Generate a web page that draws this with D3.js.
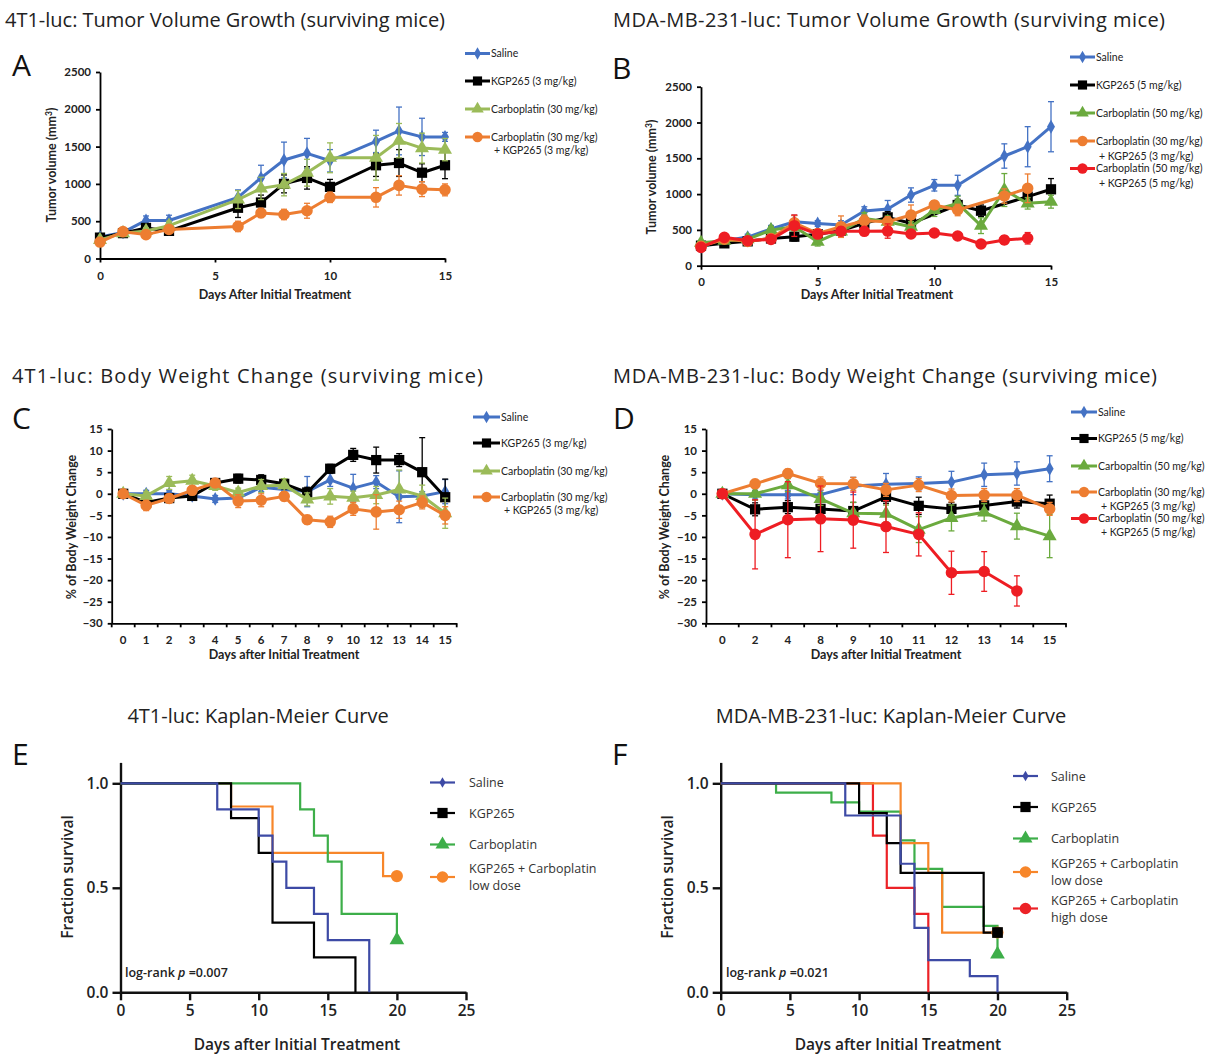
<!DOCTYPE html>
<html>
<head>
<meta charset="utf-8">
<script src="https://cdn.jsdelivr.net/npm/d3@7"></script>
<style>
  body { margin: 0; background: #fff; }
</style>
</head>
<body>
<div id="figure"></div>
<script>
// ---------- data: A, 4T1 tumor volume (mm3) ----------
const aDays = [0, 1, 2, 3, 6, 7, 8, 9, 10, 12, 13, 14, 15];
const aSaline = [290, 350, 510, 510, 820, 1080, 1320, 1410, 1310, 1570, 1710, 1630, 1630];
const aSalineErr = [40, 30, 60, 70, 100, 170, 240, 200, 150, 150, 320, 250, 60];
const aKgp = [280, 340, 410, 370, 680, 750, 1000, 1080, 960, 1250, 1280, 1150, 1250];
const aKgpErr = [30, 40, 50, 50, 130, 100, 120, 150, 100, 150, 180, 120, 180];
const aCarbo = [250, 340, 370, 440, 790, 940, 990, 1150, 1350, 1350, 1580, 1480, 1460];
const aCarboErr = [30, 40, 40, 60, 120, 150, 150, 180, 200, 300, 230, 200, 150];
const aCombo = [220, 360, 320, 390, 430, 610, 590, 640, 820, 820, 980, 930, 920];
const aComboErr = [40, 40, 40, 50, 70, 60, 70, 100, 70, 130, 130, 100, 80];
const aLabels = ['Saline', 'KGP265 (3 mg/kg)', 'Carboplatin (30 mg/kg)', ['Carboplatin (30 mg/kg)', '+ KGP265 (3 mg/kg)']];

// ---------- data: B, MDA-MB-231 tumor volume (mm3) ----------
const bDays = [0, 1, 2, 3, 4, 5, 6, 7, 8, 9, 10, 11, 12, 13, 14, 15];
const bSaline = [265, 350, 400, 512, 614, 590, 568, 763, 791, 987, 1123, 1123, null, 1532, 1662, 1941];
const bSalineErr = [30, 30, 40, 50, 90, 40, 60, 60, 120, 100, 80, 140, null, 170, 280, 350];
const bKgp = [280, 312, 340, 380, 405, 440, 490, 591, 675, 592, null, 848, 768, null, 964, 1067];
const bKgpErr = [30, 30, 30, 40, 60, 50, 50, 60, 80, 60, null, 80, 80, null, 100, 150];
const bCarbo = [320, 350, 370, 498, 545, 335, 480, 661, 614, 545, 778, 871, 559, 1057, 871, 894];
const bCarboErr = [30, 30, 30, 50, 60, 60, 60, 80, 80, 70, 90, 100, 110, 230, 80, 90];
const bComboLow = [270, 370, 340, 380, 600, 450, 545, 628, 614, 708, 848, 778, null, 973, 1081, null];
const bComboLowErr = [30, 30, 30, 40, 100, 60, 150, 80, 70, 140, 60, 80, null, 100, 200, null];
const bComboHigh = [256, 396, 349, 368, 559, 442, 480, 480, 484, 443, 457, 415, 303, 359, 383, null];
const bComboHighErr = [30, 40, 40, 40, 150, 50, 60, 50, 100, 40, 40, 40, 30, 60, 80, null];
const bLabels = ['Saline', 'KGP265 (5 mg/kg)', 'Carboplatin (50 mg/kg)',
  ['Carboplatin (30 mg/kg)', '+ KGP265 (3 mg/kg)'], ['Carboplatin (50 mg/kg)', '+ KGP265 (5 mg/kg)']];

// ---------- data: C, 4T1 body weight change (%) ----------
const cDays = ['0', '1', '2', '3', '4', '5', '6', '7', '8', '9', '10', '12', '13', '14', '15'];
const cSaline = [0, 0, 0, -0.5, -1.2, -1, 1.5, 1, 0.5, 3.2, 1.3, 2.7, -0.7, -0.5, 0.5];
const cSalineErr = [0.5, 0.8, 0.8, 0.8, 0.8, 0.8, 1, 1, 3.5, 1.5, 3.2, 1.5, 6, 1, 2.8];
const cKgp = [0, -2, -1, -0.5, 2.5, 3.5, 3.2, 2.3, 0.3, 5.8, 9, 7.8, 7.8, 5, -0.8];
const cKgpErr = [0.5, 1, 1, 0.8, 0.8, 1, 1.2, 1.2, 1.2, 1, 1.5, 3, 1.5, 8, 4.2];
const cCarbo = [0, -0.5, 2.5, 3, 1.8, 0.3, 1.8, 2, -1.3, -0.6, -0.9, -0.3, 1, -0.5, -4.5];
const cCarboErr = [0.5, 1, 1.5, 1.3, 1, 1, 1.5, 1.5, 1.5, 1.8, 1.5, 2, 4.5, 2.5, 3.5];
const cCombo = [0, -2.7, -1.1, 0.8, 2.5, -1.7, -1.5, -0.6, -6, -6.5, -3.5, -4.2, -3.7, -2, -5];
const cComboErr = [0.5, 1.2, 1, 1, 1, 1.5, 1.5, 1, 1, 1.3, 1.5, 4, 2, 1.5, 2];
const cLabels = aLabels;

// ---------- data: D, MDA-MB-231 body weight change (%) ----------
const dDays = ['0', '2', '4', '8', '9', '10', '11', '12', '13', '14', '15'];
const dSaline = [0, -0.2, -0.2, -0.2, 1.8, 2.2, 2.4, 2.7, 4.4, 4.7, 5.8];
const dSalineErr = [0.3, 1, 1, 1, 2, 2.5, 1.5, 2.5, 2.7, 2.7, 3];
const dKgp = [0, -3.6, -3.1, -3.5, -4, -0.7, -2.8, -3.5, -2.7, -1.8, -2.3];
const dKgpErr = [0.3, 1.5, 1.5, 1.5, 2, 1.5, 2, 1.5, 1.5, 1.5, 2];
const dCarbo = [0, 0, 2, -1.2, -4.5, -4.6, -8.3, -5.6, -4.3, -7.5, -9.8];
const dCarboErr = [0.3, 1.5, 1.5, 1.5, 2.5, 2, 3, 3, 2, 3, 5];
const dComboLow = [0, 2.3, 4.7, 2.4, 2.3, 0.9, 2, -0.4, -0.3, -0.3, -3.5];
const dComboLowErr = [0.3, 1, 1, 1.5, 1.5, 1.5, 1.5, 1.5, 1.5, 1.5, 1.5];
const dComboHigh = [0, -9.4, -6, -5.8, -6.1, -7.6, -9.4, -18.3, -18, -22.5, null];
const dComboHighErr = [0.3, 8, 8.8, 7.6, 6.5, 6, 5, 5, 4.6, 3.5, null];
const dLabels = ['Saline', 'KGP265 (5 mg/kg)', 'Carbopaltin (50 mg/kg)',
  ['Carboplatin (30 mg/kg)', '+ KGP265 (3 mg/kg)'], ['Carboplatin (50 mg/kg)', '+ KGP265 (5 mg/kg)']];

// ---------- data: E, 4T1 Kaplan-Meier (event days / survival fraction) ----------
const eSalineT = [0, 7, 10, 11, 12, 14, 15, 18];
const eSalineS = [1, 0.875, 0.75, 0.625, 0.5, 0.375, 0.25, 0];
const eKgpT = [0, 8, 10, 11, 14, 17];
const eKgpS = [1, 0.833, 0.667, 0.333, 0.167, 0];
const eCarboT = [0, 13, 14, 15, 16, 20];
const eCarboS = [1, 0.875, 0.75, 0.625, 0.375, 0.25];
const eComboT = [0, 8, 11, 19];
const eComboS = [1, 0.889, 0.667, 0.556];
const eLabels = ['Saline', 'KGP265', 'Carboplatin', ['KGP265 + Carboplatin', 'low dose']];

// ---------- data: F, MDA-MB-231 Kaplan-Meier ----------
const fSalineT = [0, 9, 13, 14, 15, 18, 20];
const fSalineS = [1, 0.846, 0.615, 0.308, 0.154, 0.077, 0];
const fKgpT = [0, 10, 12, 13, 19];
const fKgpS = [1, 0.857, 0.714, 0.571, 0.286];
const fCarboT = [0, 4, 8, 10, 13, 14, 16, 19, 20];
const fCarboS = [1, 0.955, 0.909, 0.864, 0.727, 0.591, 0.409, 0.318, 0.182];
const fLowT = [0, 13, 15, 16];
const fLowS = [1, 0.714, 0.571, 0.286];
const fHighT = [0, 11, 12, 14, 15];
const fHighS = [1, 0.75, 0.5, 0.375, 0];
const fLabels = ['Saline', 'KGP265', 'Carboplatin', ['KGP265 + Carboplatin', 'low dose'], ['KGP265 + Carboplatin', 'high dose']];

// ---------- setup ----------
const width = 1215;
const height = 1054;
const svg = d3.select('#figure').append('svg')
    .attr('width', width)
    .attr('height', height);

const XL = "Lato, 'Open Sans', sans-serif";   // excel-style panels
const PR = "'Open Sans', Lato, sans-serif";   // prism-style panels

const blue = '#4472C4', black = '#000000', orange = '#ED7D31', red = '#EE1D23';
const lightGreen = '#9BBB59', green = '#6BAA3E';

const symbols = { diamond: d3.symbolDiamond, square: d3.symbolSquare, triangle: d3.symbolTriangle, circle: d3.symbolCircle };
const symSize = { diamond: 55, square: 105, triangle: 85, circle: 105 };
function marker(shape, scale = 1) {
    return d3.symbol().type(symbols[shape]).size(symSize[shape] * scale)();
}

function label(g, x, y, str, size, opts = {}) {
    const t = g.append('text')
        .attr('x', x).attr('y', y)
        .attr('font-family', opts.font || XL)
        .attr('font-size', size)
        .attr('font-weight', opts.weight || 'normal')
        .attr('fill', opts.fill || '#222')
        .attr('text-anchor', opts.anchor || 'start')
        .text(str);
    if (opts.len) t.attr('textLength', opts.len).attr('lengthAdjust', 'spacing');
    if (opts.rotate) t.attr('transform', `rotate(-90,${x},${y})`);
    return t;
}

// Draws one Excel style line chart with error bars and a legend
function linePanel(cfg) {
    const g = svg.append('g');
    const { x, y, xs, series } = cfg;
    const [x0, x1] = x.range();
    const yb = y.range()[0];

    // x axis
    let xAxis;
    if (cfg.band) {
        xAxis = g.append('g').attr('transform', `translate(0,${yb})`)
            .call(d3.axisBottom(x).tickSize(0).tickPadding(cfg.xPad));
        const edges = x.domain().map(d => x(d)).concat([x1]);
        xAxis.selectAll('.edge').data(edges).join('line')
            .attr('class', 'edge')
            .attr('x1', d => d).attr('x2', d => d)
            .attr('y1', 0).attr('y2', 4);
    } else {
        xAxis = g.append('g').attr('transform', `translate(0,${yb})`)
            .call(d3.axisBottom(x).tickValues(cfg.xTicks).tickSize(4).tickSizeOuter(0).tickPadding(cfg.xPad));
    }
    const yAxis = g.append('g').attr('transform', `translate(${x0},0)`)
        .call(d3.axisLeft(y).tickValues(cfg.yTicks).tickFormat(d3.format('d'))
            .tickSize(4).tickSizeOuter(0).tickPadding(5));

    [xAxis, yAxis].forEach(a => {
        a.selectAll('.domain, .tick line, .edge').attr('stroke', '#000').attr('stroke-width', 1.8);
        a.selectAll('text').attr('font-family', XL).attr('font-size', 11.5)
            .attr('font-weight', 'bold').attr('fill', '#222');
    });

    // series
    series.forEach(s => {
        const pts = s.vals.map((v, i) => ({ x: xs(i), v, e: s.errs[i] })).filter(p => p.v != null);
        const sg = g.append('g');
        pts.filter(p => p.e).forEach(p => {
            const yt = y(p.v + p.e), yl = y(p.v - p.e);
            sg.append('line').attr('x1', p.x).attr('x2', p.x).attr('y1', yt).attr('y2', yl);
            sg.append('line').attr('x1', p.x - 3).attr('x2', p.x + 3).attr('y1', yt).attr('y2', yt);
            sg.append('line').attr('x1', p.x - 3).attr('x2', p.x + 3).attr('y1', yl).attr('y2', yl);
        });
        sg.selectAll('line').attr('stroke', s.color).attr('stroke-width', 1.3);
        sg.append('path')
            .datum(pts)
            .attr('fill', 'none')
            .attr('stroke', s.color)
            .attr('stroke-width', 3)
            .attr('stroke-linejoin', 'round')
            .attr('d', d3.line().x(p => p.x).y(p => y(p.v)));
        sg.selectAll('.mk').data(pts).join('path')
            .attr('class', 'mk')
            .attr('transform', p => `translate(${p.x},${y(p.v)})`)
            .attr('d', marker(s.shape))
            .attr('fill', s.color);
    });

    // legend
    const L = cfg.legend;
    series.forEach((s, i) => {
        const ry = L.rows[i];
        g.append('line').attr('x1', L.x).attr('x2', L.x + L.len).attr('y1', ry).attr('y2', ry)
            .attr('stroke', s.color).attr('stroke-width', 3);
        g.append('path').attr('transform', `translate(${L.x + L.len / 2},${ry})`)
            .attr('d', marker(s.shape, 0.8)).attr('fill', s.color);
        const lines = Array.isArray(s.label) ? s.label : [s.label];
        lines.forEach((t, j) => {
            label(g, L.x + L.len + 1 + (j ? 3 : 0), ry + 3.8 + j * L.gap, t, 10.5, { fill: '#222' });
        });
    });

    // axis titles
    label(g, cfg.yTitle[0], cfg.yTitle[1], '', 12.5, { weight: 'bold', anchor: 'middle', rotate: true })
        .call(t => {
            if (Array.isArray(cfg.yTitle[2])) {
                t.append('tspan').text(cfg.yTitle[2][0]);
                t.append('tspan').attr('dy', -4).attr('font-size', 8.5).text(cfg.yTitle[2][1]);
                t.append('tspan').attr('dy', 4).text(cfg.yTitle[2][2]);
            } else {
                t.text(cfg.yTitle[2]);
            }
        });
    label(g, cfg.xTitle[0], cfg.xTitle[1], cfg.xTitle[2], 12.5, { weight: 'bold', anchor: 'middle' });
    return g;
}

function ser(vals, errs, color, shape, lab) {
    return { vals, errs, color, shape, label: lab };
}

// ---------- Panel A ----------
{
    const x = d3.scaleLinear().domain([0, 15]).range([100, 445]);
    const y = d3.scaleLinear().domain([0, 2500]).range([258.5, 72]);
    linePanel({
        x, y, xs: i => x(aDays[i]), xTicks: [0, 5, 10, 15], yTicks: d3.range(0, 2501, 500), xPad: 9,
        series: [
            ser(aSaline, aSalineErr, blue, 'diamond', aLabels[0]),
            ser(aKgp, aKgpErr, black, 'square', aLabels[1]),
            ser(aCarbo, aCarboErr, lightGreen, 'triangle', aLabels[2]),
            ser(aCombo, aComboErr, orange, 'circle', aLabels[3])
        ],
        legend: { x: 465, len: 25, rows: [53.5, 81, 109, 137], gap: 13.5 },
        yTitle: [56, 165, ['Tumor volume (mm', '3', ')']],
        xTitle: [275, 299, 'Days After Initial Treatment']
    });
}

// ---------- Panel B ----------
{
    const x = d3.scaleLinear().domain([0, 15]).range([701, 1051]);
    const y = d3.scaleLinear().domain([0, 2500]).range([265.7, 86.7]);
    linePanel({
        x, y, xs: i => x(bDays[i]), xTicks: [0, 5, 10, 15], yTicks: d3.range(0, 2501, 500), xPad: 8,
        series: [
            ser(bSaline, bSalineErr, blue, 'diamond', bLabels[0]),
            ser(bKgp, bKgpErr, black, 'square', bLabels[1]),
            ser(bCarbo, bCarboErr, green, 'triangle', bLabels[2]),
            ser(bComboLow, bComboLowErr, orange, 'circle', bLabels[3]),
            ser(bComboHigh, bComboHighErr, red, 'circle', bLabels[4])
        ],
        legend: { x: 1070, len: 25, rows: [57, 85, 113, 141, 168.5], gap: 15 },
        yTitle: [656, 177, ['Tumor volume (mm', '3', ')']],
        xTitle: [877, 299, 'Days After Initial Treatment']
    });
}

// ---------- Panel C ----------
{
    const x = d3.scaleBand().domain(cDays).range([111.7, 456.7]);
    const y = d3.scaleLinear().domain([-30, 15]).range([623.3, 429]);
    linePanel({
        x, y, band: true, xs: i => x(cDays[i]) + x.bandwidth() / 2, yTicks: d3.range(-30, 16, 5), xPad: 13,
        series: [
            ser(cSaline, cSalineErr, blue, 'diamond', cLabels[0]),
            ser(cKgp, cKgpErr, black, 'square', cLabels[1]),
            ser(cCarbo, cCarboErr, lightGreen, 'triangle', cLabels[2]),
            ser(cCombo, cComboErr, orange, 'circle', cLabels[3])
        ],
        legend: { x: 473, len: 27, rows: [417, 443, 471, 497], gap: 13 },
        yTitle: [76, 527, '% of Body Weight Change'],
        xTitle: [284, 659, 'Days after Initial Treatment']
    });
}

// ---------- Panel D ----------
{
    const x = d3.scaleBand().domain(dDays).range([706, 1066]);
    const y = d3.scaleLinear().domain([-30, 15]).range([623.3, 429]);
    linePanel({
        x, y, band: true, xs: i => x(dDays[i]) + x.bandwidth() / 2, yTicks: d3.range(-30, 16, 5), xPad: 13,
        series: [
            ser(dSaline, dSalineErr, blue, 'diamond', dLabels[0]),
            ser(dKgp, dKgpErr, black, 'square', dLabels[1]),
            ser(dCarbo, dCarboErr, green, 'triangle', dLabels[2]),
            ser(dComboLow, dComboLowErr, orange, 'circle', dLabels[3]),
            ser(dComboHigh, dComboHighErr, red, 'circle', dLabels[4])
        ],
        legend: { x: 1071, len: 26, rows: [412, 438.5, 466, 492, 518.5], gap: 14 },
        yTitle: [669, 527, '% of Body Weight Change'],
        xTitle: [886, 659, 'Days after Initial Treatment']
    });
}

// ---------- Kaplan-Meier panels ----------
const kmBlue = '#3D4AA5', kmGreen = '#3DAE49', kmOrange = '#F7862A', kmRed = '#EC2227';

function kmPanel(cfg) {
    const g = svg.append('g');
    const { x, y } = cfg;
    const x0 = x.range()[0], yb = y.range()[0];

    const xAxis = g.append('g').attr('transform', `translate(0,${yb})`)
        .call(d3.axisBottom(x).tickValues(d3.range(0, 26, 5)).tickSize(8).tickSizeOuter(0).tickPadding(5));
    const yAxis = g.append('g').attr('transform', `translate(${x0},0)`)
        .call(d3.axisLeft(y).tickValues([0, 0.5, 1]).tickFormat(d3.format('.1f')).tickSize(8).tickSizeOuter(0).tickPadding(4));
    [xAxis, yAxis].forEach(a => {
        a.selectAll('.domain, .tick line').attr('stroke', '#111').attr('stroke-width', 2.4);
        a.selectAll('text').attr('font-family', PR).attr('font-size', 15.5)
            .attr('font-weight', 600).attr('fill', '#222');
    });

    const step = s => {
        const pts = [[s.t[0], s.s[0]]];
        for (let i = 1; i < s.t.length; i++) {
            pts.push([s.t[i], s.s[i - 1]], [s.t[i], s.s[i]]);
        }
        if (s.end > s.t[s.t.length - 1]) pts.push([s.end, s.s[s.s.length - 1]]);
        return pts;
    };
    const line = d3.line().x(d => x(d[0])).y(d => y(d[1]));

    cfg.draw.forEach(s => {
        g.append('path').datum(step(s))
            .attr('fill', 'none').attr('stroke', s.color).attr('stroke-width', 2.2)
            .attr('d', line);
    });
    cfg.draw.filter(s => s.endMark).forEach(s => {
        g.append('path')
            .attr('transform', `translate(${x(s.end)},${y(s.s[s.s.length - 1])})`)
            .attr('d', marker(s.shape, 1.1)).attr('fill', s.color);
    });

    // legend
    const L = cfg.legend;
    cfg.series.forEach((s, i) => {
        const ry = L.rows[i];
        g.append('line').attr('x1', L.x).attr('x2', L.x + 25).attr('y1', ry).attr('y2', ry)
            .attr('stroke', s.color).attr('stroke-width', 2.2);
        g.append('path').attr('transform', `translate(${L.x + 12.5},${ry})`)
            .attr('d', marker(s.shape, s.shape === 'diamond' ? 0.6 : 1)).attr('fill', s.color);
        const lines = Array.isArray(s.label) ? s.label : [s.label];
        const top = ry + 4.5 - (lines.length - 1) * 8.5;
        lines.forEach((t, j) => label(g, L.tx, top + j * 17, t, 12.5, { font: PR, fill: '#333' }));
    });

    const lr = label(g, cfg.logrank[0], cfg.logrank[1], 'log-rank ', 12.5, { font: PR, weight: 600, fill: '#222' });
    lr.append('tspan').attr('font-style', 'italic').text('p');
    lr.append('tspan').text(' =' + cfg.logrank[2]);

    label(g, cfg.yTitle[0], cfg.yTitle[1], 'Fraction survival', 15.5,
        { font: PR, weight: 600, anchor: 'middle', rotate: true });
    label(g, cfg.xTitle[0], cfg.xTitle[1], 'Days after Initial Treatment', 15.5,
        { font: PR, weight: 600, anchor: 'middle' });
}

// ---------- Panel E ----------
{
    const x = d3.scaleLinear().domain([0, 25]).range([120.5, 466]);
    const y = d3.scaleLinear().domain([0, 1.1]).range([992.3, 762.4]);
    const saline = { t: eSalineT, s: eSalineS, end: 18, color: kmBlue, shape: 'diamond', label: eLabels[0] };
    const kgp = { t: eKgpT, s: eKgpS, end: 17, color: black, shape: 'square', label: eLabels[1] };
    const carbo = { t: eCarboT, s: eCarboS, end: 20, color: kmGreen, shape: 'triangle', label: eLabels[2], endMark: true };
    const combo = { t: eComboT, s: eComboS, end: 20, color: kmOrange, shape: 'circle', label: eLabels[3], endMark: true };
    kmPanel({
        x, y,
        series: [saline, kgp, carbo, combo],
        draw: [combo, carbo, kgp, saline],
        legend: { x: 430, tx: 469, rows: [782.5, 813, 844.5, 877] },
        logrank: [125, 977, '0.007'],
        yTitle: [73, 877],
        xTitle: [297, 1050]
    });
}

// ---------- Panel F ----------
{
    const x = d3.scaleLinear().domain([0, 25]).range([720.7, 1066.7]);
    const y = d3.scaleLinear().domain([0, 1.1]).range([992.3, 762.4]);
    const saline = { t: fSalineT, s: fSalineS, end: 20, color: kmBlue, shape: 'diamond', label: fLabels[0] };
    const kgp = { t: fKgpT, s: fKgpS, end: 20, color: black, shape: 'square', label: fLabels[1], endMark: true };
    const carbo = { t: fCarboT, s: fCarboS, end: 20, color: kmGreen, shape: 'triangle', label: fLabels[2], endMark: true };
    const low = { t: fLowT, s: fLowS, end: 20, color: kmOrange, shape: 'circle', label: fLabels[3], endMark: true };
    const high = { t: fHighT, s: fHighS, end: 15, color: kmRed, shape: 'circle', label: fLabels[4] };
    kmPanel({
        x, y,
        series: [saline, kgp, carbo, low, high],
        draw: [high, carbo, low, kgp, saline],
        legend: { x: 1013, tx: 1051, rows: [776, 807, 838.5, 872, 908.5] },
        logrank: [726, 977, '0.021'],
        yTitle: [673, 877],
        xTitle: [898, 1050]
    });
}

// ---------- titles and panel letters ----------
const titles = [
    [5, 27, '4T1-luc: Tumor Volume Growth (surviving mice)', 440],
    [613, 27, 'MDA-MB-231-luc: Tumor Volume Growth (surviving mice)', 552],
    [12, 383, '4T1-luc: Body Weight Change (surviving mice)', 471],
    [613, 383, 'MDA-MB-231-luc: Body Weight Change (surviving mice)', 544]
];
titles.forEach(t => label(svg, t[0], t[1], t[2], 20, { font: PR, len: t[3], fill: '#222' }));
label(svg, 258, 723, '4T1-luc: Kaplan-Meier Curve', 20, { font: PR, anchor: 'middle', fill: '#222' });
label(svg, 891, 723, 'MDA-MB-231-luc: Kaplan-Meier Curve', 20, { font: PR, anchor: 'middle', fill: '#222' });

const letters = [['A', 12, 76], ['B', 612, 79], ['C', 12, 429], ['D', 613, 429], ['E', 12, 765], ['F', 612, 765]];
letters.forEach(l => label(svg, l[1], l[2], l[0], 30, { font: PR, fill: '#111' }));
</script>
</body>
</html>
